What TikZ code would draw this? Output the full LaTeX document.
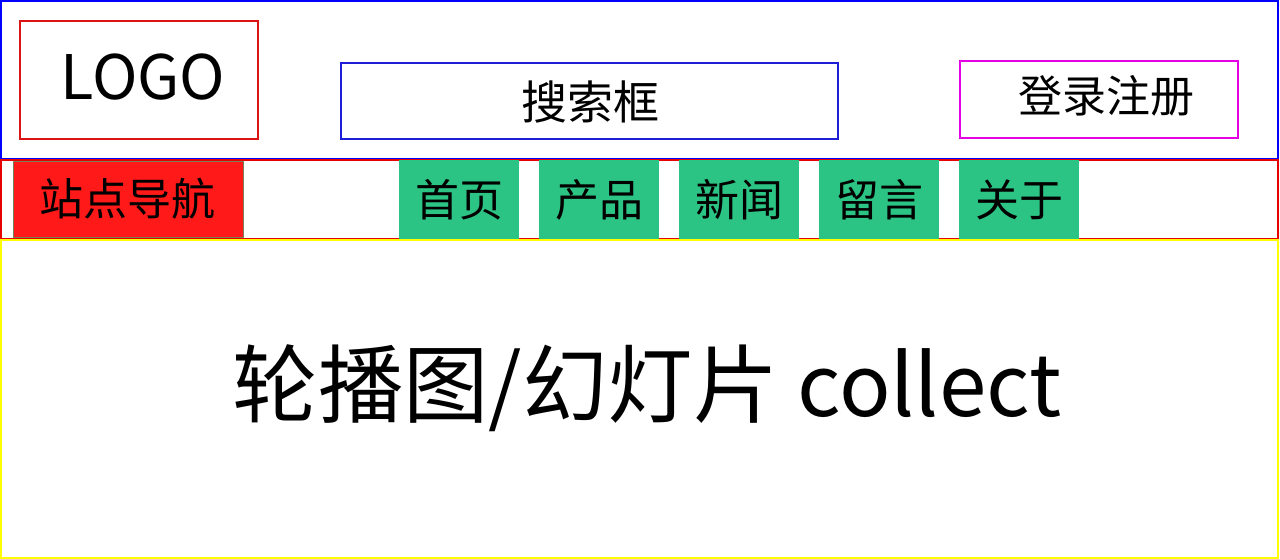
\documentclass[tikz,border=0pt]{standalone}
\usepackage{fontspec}
\setmainfont{Noto Sans CJK SC}
\usepackage{xcolor}
\usepackage{tikz}

\begin{document}
\begin{tikzpicture}[x=0.75pt,y=0.75pt,yscale=-1,xscale=1,
  navitem/.style={fill={rgb, 255:red, 44; green, 196; blue, 132}, draw=none, minimum width=90pt, minimum height=59.25pt, inner sep=0pt, anchor=north west, font=\fontsize{33pt}{33pt}\selectfont}]
\useasboundingbox (0,0) rectangle (1280,559);

%Header [id:header]
\draw [draw={rgb, 255:red, 0; green, 0; blue, 255 }, line width=1.5] (1,1) rectangle (1278,159);
%LOGO box [id:logobox]
\draw [draw={rgb, 255:red, 220; green, 20; blue, 20 }, line width=1.5] (20,21) rectangle (258,139);
%Search box [id:searchbox]
\draw [draw={rgb, 255:red, 30; green, 30; blue, 215 }, line width=1.5] (341,63) rectangle (838,139);
%Login box [id:loginbox]
\draw [draw={rgb, 255:red, 230; green, 0; blue, 230 }, line width=1.5] (960,61) rectangle (1238,138);

%Nav bar [id:navbar]
\draw [draw={rgb, 255:red, 230; green, 0; blue, 0 }, line width=1.5] (1,160) rectangle (1278,239);
%Site nav [id:sitenav]
\draw [fill={rgb, 255:red, 255; green, 25; blue, 25 }, draw={rgb, 255:red, 120; green, 130; blue, 90 }, line width=0.75] (13,162) rectangle (243,238);

%Banner [id:banner]
\draw [draw={rgb, 255:red, 255; green, 255; blue, 0 }, line width=1.5] (1,240) rectangle (1278,558);

% Text Node
\node (logo) at (143,77) [inner sep=0pt, font=\fontsize{46pt}{46pt}\selectfont] {LOGO};
% Text Node
\node (search) at (590,102) [inner sep=0pt, font=\fontsize{34.5pt}{34.5pt}\selectfont] {搜索框};
% Text Node
\node (login) at (1106,96) [inner sep=0pt, font=\fontsize{33pt}{33pt}\selectfont] {登录注册};
% Text Node
\node (sitenavtext) at (127,199) [inner sep=0pt, font=\fontsize{33pt}{33pt}\selectfont] {站点导航};

% Nav items
\node (home) at (399,160) [navitem] {首页};
\node (products) at (539,160) [navitem] {产品};
\node (news) at (679,160) [navitem] {新闻};
\node (message) at (819,160) [navitem] {留言};
\node (about) at (959,160) [navitem] {关于};

% Text Node
\node (slides) at (647,388) [inner sep=0pt, font=\fontsize{64pt}{64pt}\selectfont] {轮播图/幻灯片 collect};

\end{tikzpicture}
\end{document}
